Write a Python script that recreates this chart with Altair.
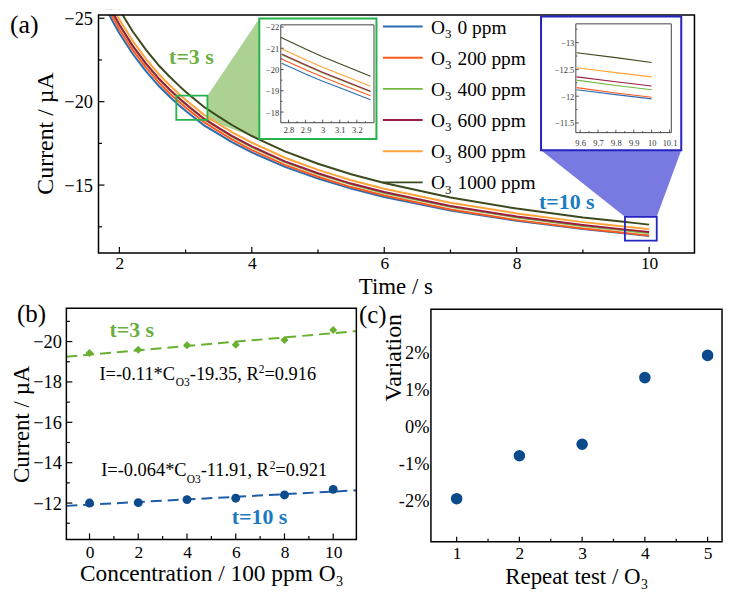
import altair as alt
import pandas as pd

SERIF = "Liberation Serif, Times New Roman, DejaVu Serif, serif"
W, H = 722, 590

# ---------------- data ----------------
TIME_S = [1.8, 1.9, 2.0, 2.2, 2.4, 2.6, 2.76, 2.9, 3.0, 3.1, 3.28, 3.5, 3.7, 4.0,
          4.5, 5.0, 5.5, 6.0, 7.0, 8.0, 9.0, 9.58, 9.8, 10.0]
I_O3_0 = [-25.58, -24.81, -24.10, -22.87, -21.83, -20.92, -20.29, -19.79, -19.45, -19.14,
          -18.58, -18.05, -17.58, -16.96, -16.09, -15.39, -14.79, -14.29, -13.48, -12.86,
          -12.36, -12.12, -12.03, -11.95]
I_O3_200 = [-25.84, -25.06, -24.34, -23.10, -22.05, -21.13, -20.49, -19.99, -19.65, -19.33,
            -18.77, -18.22, -17.74, -17.10, -16.21, -15.50, -14.88, -14.37, -13.54, -12.90,
            -12.40, -12.16, -12.06, -11.98]
I_O3_400 = [-26.09, -25.31, -24.58, -23.33, -22.27, -21.34, -20.70, -20.19, -19.84, -19.52,
            -18.95, -18.40, -17.91, -17.27, -16.38, -15.66, -15.04, -14.53, -13.70, -13.06,
            -12.55, -12.30, -12.20, -12.12]
I_O3_600 = [-26.13, -25.34, -24.62, -23.36, -22.30, -21.37, -20.73, -20.22, -19.87, -19.55,
            -18.98, -18.43, -17.95, -17.32, -16.42, -15.71, -15.09, -14.58, -13.75, -13.12,
            -12.61, -12.36, -12.27, -12.19]
I_O3_800 = [-26.45, -25.65, -24.92, -23.65, -22.57, -21.63, -20.98, -20.46, -20.11, -19.79,
            -19.21, -18.66, -18.18, -17.54, -16.64, -15.91, -15.29, -14.78, -13.94, -13.30,
            -12.78, -12.53, -12.44, -12.36]
I_O3_1000 = [-27.09, -26.27, -25.52, -24.22, -23.12, -22.15, -21.49, -20.96, -20.60, -20.27,
             -19.68, -19.10, -18.60, -17.94, -17.02, -16.28, -15.65, -15.12, -14.26, -13.59,
             -13.06, -12.81, -12.72, -12.63]
CONC_PPM = [0, 200, 400, 600, 800, 1000]
SERIES_COLORS = ["#2b6cb0", "#ff5a1f", "#72b843", "#9b1c42", "#ffa43a", "#3d4a1e"]
LEGEND_LABELS = ["0 ppm", "200 ppm", "400 ppm", "600 ppm", "800 ppm", "1000 ppm"]

CONC_100PPM = [0, 2, 4, 6, 8, 10]
I_T3 = [-19.43, -19.59, -19.82, -19.84, -20.08, -20.57]
I_T10 = [-12.00, -12.02, -12.17, -12.24, -12.40, -12.68]
FIT_X = [-0.95, 10.95]
FIT_T3 = [-19.25, -20.52]
FIT_T10 = [-11.86, -12.63]

REPEAT = [1, 2, 3, 4, 5]
VARIATION = [-1.95, -0.79, -0.48, 1.32, 1.92]

# tick values
A_X_MAJOR = [2, 4, 6, 8, 10]
A_X_MINOR = [3, 5, 7, 9]
A_Y_MAJOR = [-25, -20, -15]
A_Y_MINOR = [-22.5, -17.5, -12.5]
I1_X_MAJOR = [2.8, 2.9, 3.0, 3.1, 3.2]
I1_X_MINOR = [2.85, 2.95, 3.05, 3.15, 3.25]
I1_Y_MAJOR = [-22, -21, -20, -19, -18]
I1_Y_MINOR = [-21.5, -20.5, -19.5, -18.5]
I2_X_MAJOR = [9.6, 9.7, 9.8, 9.9, 10.0, 10.1]
I2_X_MINOR = [9.65, 9.75, 9.85, 9.95, 10.05]
I2_Y_MAJOR = [-13, -12.5, -12, -11.5]
I2_Y_MINOR = [-13.25, -12.75, -12.25, -11.75]
B_X_MAJOR = [0, 2, 4, 6, 8, 10]
B_X_MINOR = [1, 3, 5, 7, 9]
B_Y_MAJOR = [-20, -18, -16, -14, -12]
B_Y_MINOR = [-21, -19, -17, -15, -13, -11]
C_X_MAJOR = [1, 2, 3, 4, 5]
C_X_MINOR = [1.5, 2.5, 3.5, 4.5]
C_Y_MAJOR = [-2, -1, 0, 1, 2]

# ---------------- layout (chart pixels) ----------------
PA = dict(x0=91.0, x1=690.3, y0=5.3, y1=244.7, xd=[1.685, 10.685], yd=[-25.2, -10.93], up=False)
PI1 = dict(x0=274.3, x1=368.0, y0=15.3, y1=113.7, xd=[2.755, 3.30], yd=[-22.1, -17.5], up=False)
PI2 = dict(x0=571.0, x1=667.0, y0=14.3, y1=123.7, xd=[9.576, 10.11], yd=[-13.35, -11.32], up=False)
PB = dict(x0=58.7, x1=350.3, y0=300.3, y1=532.7, xd=[-0.95, 10.95], yd=[-21.65, -10.2], up=False)
PC = dict(x0=425.3, x1=718.0, y0=301.3, y1=535.0, xd=[0.59, 5.23], yd=[-3.11, 3.165], up=True)

GREEN_FRAME = dict(x0=252.7, x1=370.5, y0=9.0, y1=130.0)
BLUE_FRAME = dict(x0=536.0, x1=677.0, y0=7.0, y1=141.3)
ZOOM3 = dict(t0=2.86, t1=3.33, i0=-20.36, i1=-18.91)
ZOOM10 = dict(t0=9.635, t1=10.115, i0=-13.10, i1=-11.67)

GREEN_T = "#6aaf3d"
BLUE_T = "#1c7ac2"
GREEN_B = "#68b030"
NAVY = "#0d4b8c"

ONE = pd.DataFrame({"k": [0]})

# Times-metric advance widths (1/1000 em) to chain equation pieces
ADV = {"I": 333, "=": 564, "-": 333, ".": 250, "*": 500, "C": 667, ",": 250, " ": 250,
       "R": 667, "O": 722}


def text_w(s, size):
    return sum(ADV.get(ch, 500) for ch in s) * size / 1000.0


def lin(v, dom, rng):
    return rng[0] + (v - dom[0]) / (dom[1] - dom[0]) * (rng[1] - rng[0])


def sx(p):
    return alt.Scale(domain=p["xd"], range=[p["x0"], p["x1"]], nice=False, zero=False)


def sy(p):
    rng = [p["y1"], p["y0"]] if p["up"] else [p["y0"], p["y1"]]
    return alt.Scale(domain=p["yd"], range=rng, nice=False, zero=False)


def x_axis(p, values, size, pad, color="black"):
    return alt.Axis(orient="bottom", offset=p["y1"] - H, values=values, format="~r",
                    ticks=False, tickSize=0, domain=False, grid=False, labelFont=SERIF,
                    labelFontSize=size, labelColor=color, labelPadding=pad,
                    labelFlush=False, labelOverlap=False, title=None, zindex=2)


def y_axis(p, values, size, pad, color="black", expr=None):
    kw = {}
    if expr:
        kw["labelExpr"] = expr
    return alt.Axis(orient="left", offset=-p["x0"], values=values, format="~r",
                    ticks=False, tickSize=0, domain=False, grid=False, labelFont=SERIF,
                    labelFontSize=size, labelColor=color, labelPadding=pad,
                    labelFlush=False, labelOverlap=False, title=None, zindex=2, **kw)


def ticks_x(p, vals, length, width=1.2, color="black"):
    return alt.Chart(pd.DataFrame({"v": vals})).mark_rule(color=color, strokeWidth=width).encode(
        x=alt.X("v:Q", scale=sx(p), axis=None),
        y=alt.value(p["y1"] - length), y2=alt.value(p["y1"]))


def ticks_y(p, vals, length, width=1.2, color="black"):
    return alt.Chart(pd.DataFrame({"v": vals})).mark_rule(color=color, strokeWidth=width).encode(
        y=alt.Y("v:Q", scale=sy(p), axis=None),
        x=alt.value(p["x0"]), x2=alt.value(p["x0"] + length))


def box(x0, x1, y0, y1, stroke, width, fill=None):
    m = alt.Chart(ONE).mark_rect(stroke=stroke, strokeWidth=width,
                                 fill=fill if fill else "white",
                                 fillOpacity=1 if fill else 0)
    return m.encode(x=alt.value(x0), x2=alt.value(x1), y=alt.value(y0), y2=alt.value(y1))


def frame(p, stroke="black", width=1.5):
    return box(p["x0"], p["x1"], p["y0"], p["y1"], stroke, width)


def label(s, x, y, size, color="black", bold=False, angle=0, align="left", baseline="alphabetic"):
    return alt.Chart(ONE).mark_text(text=s, font=SERIF, fontSize=size, color=color,
                                    fontWeight="bold" if bold else "normal", angle=angle,
                                    align=align, baseline=baseline).encode(
        x=alt.value(x), y=alt.value(y))


def equation(parts, x, y, size, sub_size):
    """parts: list of (text, kind) with kind in 'n' (normal), 'sub', 'sup'."""
    out = []
    for s, kind in parts:
        if kind == "n":
            out.append(label(s, x, y, size))
            x += text_w(s, size)
        elif kind == "sub":
            out.append(label(s, x, y + 6.5, sub_size))
            x += text_w(s, sub_size)
        else:
            out.append(label(s, x, y - 7, sub_size))
            x += text_w(s, sub_size)
    return out


rows = []
for c, vals in zip(CONC_PPM, [I_O3_0, I_O3_200, I_O3_400, I_O3_600, I_O3_800, I_O3_1000]):
    for t, v in zip(TIME_S, vals):
        rows.append({"t": t, "I": v, "c": c})
curves = pd.DataFrame(rows)
cs = alt.Scale(domain=CONC_PPM, range=SERIES_COLORS)

layers = []

# connector polygons
gx = lin(ZOOM3["t1"], PA["xd"], [PA["x0"], PA["x1"]])
gyt = lin(ZOOM3["i0"], PA["yd"], [PA["y0"], PA["y1"]])
gyb = lin(ZOOM3["i1"], PA["yd"], [PA["y0"], PA["y1"]])
green_poly = pd.DataFrame({"x": [gx, GREEN_FRAME["x0"]], "yt": [gyt, GREEN_FRAME["y0"]],
                           "yb": [gyb, GREEN_FRAME["y1"]]})
layers.append(alt.Chart(green_poly).mark_area(orient="vertical", color="#a7d08c", opacity=0.95).encode(
    x=alt.X("x:Q", scale=None, axis=None), y=alt.Y("yt:Q", scale=None, axis=None), y2="yb:Q"))

bxl = lin(ZOOM10["t0"], PA["xd"], [PA["x0"], PA["x1"]])
bxr = lin(ZOOM10["t1"], PA["xd"], [PA["x0"], PA["x1"]])
byt = lin(ZOOM10["i0"], PA["yd"], [PA["y0"], PA["y1"]])
blue_poly = pd.DataFrame({"y": [BLUE_FRAME["y1"], byt], "xl": [BLUE_FRAME["x0"], bxl],
                          "xr": [BLUE_FRAME["x1"], bxr]})
layers.append(alt.Chart(blue_poly).mark_area(orient="horizontal", color="#7272e0", opacity=0.95).encode(
    y=alt.Y("y:Q", scale=None, axis=None), x=alt.X("xl:Q", scale=None, axis=None), x2="xr:Q"))

# panel (a) curves
layers.append(alt.Chart(curves).mark_line(strokeWidth=2, clip=True).encode(
    x=alt.X("t:Q", scale=sx(PA), axis=x_axis(PA, A_X_MAJOR, 17.5, 2)),
    y=alt.Y("I:Q", scale=sy(PA), axis=y_axis(PA, A_Y_MAJOR, 18.5, 6)),
    color=alt.Color("c:O", scale=cs, legend=None)))
layers.append(box(PA["x0"], PA["x1"], 0, PA["y0"], "white", 0, fill="white"))
layers.append(frame(PA))
layers.append(ticks_x(PA, A_X_MAJOR, 6))
layers.append(ticks_x(PA, A_X_MINOR, 3.5))
layers.append(ticks_y(PA, A_Y_MAJOR, 6))
layers.append(ticks_y(PA, A_Y_MINOR, 3.5))

# zoom boxes in main plot
for z, col in [(ZOOM3, "#27b34c"), (ZOOM10, "#2424c0")]:
    zdf = pd.DataFrame({"a": [z["t0"]], "b": [z["t1"]], "c0": [z["i0"]], "c1": [z["i1"]]})
    layers.append(alt.Chart(zdf).mark_rect(fillOpacity=0, stroke=col, strokeWidth=1.8).encode(
        x=alt.X("a:Q", scale=sx(PA), axis=None), x2="b:Q",
        y=alt.Y("c0:Q", scale=sy(PA), axis=None), y2="c1:Q"))

# inset boxes
layers.append(box(GREEN_FRAME["x0"], GREEN_FRAME["x1"], GREEN_FRAME["y0"], GREEN_FRAME["y1"],
                  "#27b34c", 2, fill="white"))
layers.append(box(BLUE_FRAME["x0"], BLUE_FRAME["x1"], BLUE_FRAME["y0"], BLUE_FRAME["y1"],
                  "#2424c0", 2, fill="white"))
layers.append(frame(PI1, "#444444", 1))
layers.append(frame(PI2, "#444444", 1))

layers.append(alt.Chart(curves).transform_filter("datum.t >= 2.75 && datum.t <= 3.29").mark_line(
    strokeWidth=1.1).encode(
    x=alt.X("t:Q", scale=sx(PI1), axis=x_axis(PI1, I1_X_MAJOR, 8.5, 2.5, "#333333")),
    y=alt.Y("I:Q", scale=sy(PI1), axis=y_axis(PI1, I1_Y_MAJOR, 8.5, 2, "#333333")),
    color=alt.Color("c:O", scale=cs, legend=None)))
layers.append(alt.Chart(curves).transform_filter("datum.t >= 9.57").mark_line(
    strokeWidth=1.1).encode(
    x=alt.X("t:Q", scale=sx(PI2), axis=x_axis(PI2, I2_X_MAJOR, 8.5, 6, "#333333")),
    y=alt.Y("I:Q", scale=sy(PI2), axis=y_axis(PI2, I2_Y_MAJOR, 8.5, 2, "#333333")),
    color=alt.Color("c:O", scale=cs, legend=None)))
for p, xm, xn, ym, yn in [(PI1, I1_X_MAJOR, I1_X_MINOR, I1_Y_MAJOR, I1_Y_MINOR),
                          (PI2, I2_X_MAJOR, I2_X_MINOR, I2_Y_MAJOR, I2_Y_MINOR)]:
    layers.append(ticks_x(p, xm, 3, 0.8, "#333333"))
    layers.append(ticks_x(p, xn, 1.6, 0.8, "#333333"))
    layers.append(ticks_y(p, ym, 3, 0.8, "#333333"))
    layers.append(ticks_y(p, yn, 1.6, 0.8, "#333333"))

# legend (drawn inside panel a)
dfL = pd.DataFrame({"i": list(range(6)), "c": CONC_PPM, "lab": LEGEND_LABELS})
ly = alt.Scale(domain=[0, 5], range=[17, 173.7])
layers.append(alt.Chart(dfL).mark_rule(strokeWidth=2).encode(
    y=alt.Y("i:Q", scale=ly, axis=None), x=alt.value(377), x2=alt.value(417),
    color=alt.Color("c:O", scale=cs, legend=None)))
layers.append(alt.Chart(dfL).mark_text(text="O", font=SERIF, fontSize=19.5, align="left",
                                       baseline="alphabetic", dy=7, color="black").encode(
    y=alt.Y("i:Q", scale=ly, axis=None), x=alt.value(425.3)))
layers.append(alt.Chart(dfL).mark_text(text="3", font=SERIF, fontSize=13, align="left",
                                       baseline="alphabetic", dy=11.5, color="black").encode(
    y=alt.Y("i:Q", scale=ly, axis=None), x=alt.value(439.5)))
layers.append(alt.Chart(dfL).mark_text(font=SERIF, fontSize=19.5, align="left",
                                       baseline="alphabetic", dy=7, color="black").encode(
    y=alt.Y("i:Q", scale=ly, axis=None), x=alt.value(452), text="lab:N"))

layers.append(label("t=3 s", 162, 55, 22, GREEN_T, bold=True))
layers.append(label("t=10 s", 534, 200, 22, BLUE_T, bold=True))

# ---------------- panel (b) ----------------
dfB = pd.DataFrame({"x": CONC_100PPM, "t3": I_T3, "t10": I_T10})
dfF = pd.DataFrame({"x": FIT_X, "t3": FIT_T3, "t10": FIT_T10})
layers.append(alt.Chart(dfF).mark_line(strokeDash=[11, 6], strokeWidth=2, color=GREEN_B).encode(
    x=alt.X("x:Q", scale=sx(PB), axis=None), y=alt.Y("t3:Q", scale=sy(PB), axis=None)))
layers.append(alt.Chart(dfF).mark_line(strokeDash=[11, 6], strokeWidth=2, color="#1d5ca6").encode(
    x=alt.X("x:Q", scale=sx(PB), axis=None), y=alt.Y("t10:Q", scale=sy(PB), axis=None)))
layers.append(alt.Chart(dfB).mark_point(shape="diamond", filled=True, size=65, color=GREEN_B,
                                        opacity=1).encode(
    x=alt.X("x:Q", scale=sx(PB), axis=x_axis(PB, B_X_MAJOR, 17.5, 4)),
    y=alt.Y("t3:Q", scale=sy(PB), axis=y_axis(PB, B_Y_MAJOR, 18.5, 5))))
layers.append(alt.Chart(dfB).mark_circle(size=80, color=NAVY, opacity=1).encode(
    x=alt.X("x:Q", scale=sx(PB), axis=None), y=alt.Y("t10:Q", scale=sy(PB), axis=None)))
layers.append(frame(PB))
layers.append(ticks_x(PB, B_X_MAJOR, 6))
layers.append(ticks_x(PB, B_X_MINOR, 3.5))
layers.append(ticks_y(PB, B_Y_MAJOR, 6))
layers.append(ticks_y(PB, B_Y_MINOR, 3.5))

layers.append(label("t=3 s", 102, 329, 22, GREEN_T, bold=True))
layers.append(label("t=10 s", 225, 517, 22, BLUE_T, bold=True))
# equations
layers += equation([("I=-0.11*C", "n"), ("O3", "sub"), ("-19.35, R", "n"), ("2", "sup"),
                    ("=0.916", "n")], 92, 372, 18.5, 11.5)
layers += equation([("I=-0.064*C", "n"), ("O3", "sub"), ("-11.91, R", "n"), ("2", "sup"),
                    ("=0.921", "n")], 93.7, 469.3, 18.5, 11.5)

# ---------------- panel (c) ----------------
dfC = pd.DataFrame({"r": REPEAT, "v": VARIATION})
layers.append(alt.Chart(dfC).mark_circle(size=135, color="#0b4a8b", opacity=1).encode(
    x=alt.X("r:Q", scale=sx(PC), axis=x_axis(PC, C_X_MAJOR, 17.5, 3)),
    y=alt.Y("v:Q", scale=sy(PC), axis=y_axis(
        PC, C_Y_MAJOR, 18.5, 2,
        expr="(datum.value < 0 ? '-' : '') + abs(datum.value) + '%'"))))
layers.append(frame(PC))
layers.append(ticks_x(PC, C_X_MAJOR, 5))
layers.append(ticks_x(PC, C_X_MINOR, 3))

# ---------------- titles & panel labels ----------------
layers.append(label("Time / s", 390, 286, 23, align="center"))
layers.append(label("Current / \u00b5A", 45, 124.5, 24, angle=270, align="center"))
layers.append(label("Concentration / 100 ppm O\u2083", 205, 575, 23.5, align="center"))
layers.append(label("Current / \u00b5A", 21, 417, 23, angle=270, align="center"))
layers.append(label("Repeat test / O\u2083", 572, 578, 23, align="center"))
layers.append(label("Variation", 395, 350, 24, angle=270, align="center"))
layers.append(label("(a)", 2, 23, 26))
layers.append(label("(b)", 9, 314, 25))
layers.append(label("(c)", 353, 315, 25))

chart = alt.layer(*layers).resolve_scale(x="independent", y="independent").properties(
    width=W, height=H, autosize=alt.AutoSizeParams(type="none"), padding=0
).configure_view(stroke=None)

chart.save("out.html", embed_options={"renderer": "svg", "actions": False})
